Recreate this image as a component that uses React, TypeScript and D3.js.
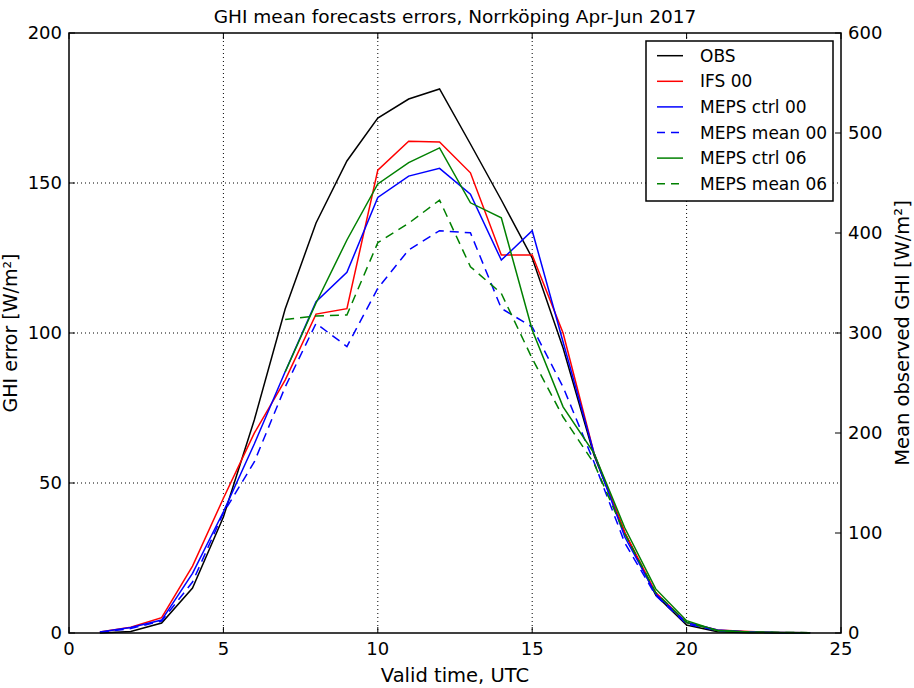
import React from "react";
import * as d3 from "d3";

const hours = [1, 2, 3, 4, 5, 6, 7, 8, 9, 10, 11, 12, 13, 14, 15, 16, 17, 18, 19, 20, 21, 22, 23, 24];
const hours06 = [7, 8, 9, 10, 11, 12, 13, 14, 15, 16, 17, 18, 19, 20, 21, 22, 23, 24];

// Mean observed GHI [W/m²] (right axis)
const obs = [0, 1.5, 10, 45, 116, 213, 324, 410, 472, 515, 534, 544, 489, 433, 375, 285, 178, 100, 38, 8, 1.2, 0.3, 0, 0];
// GHI errors [W/m²] (left axis)
const ifs00 = [0.3, 1.9, 5.1, 22.3, 44.9, 66.6, 84.3, 106.3, 108.1, 154.3, 163.9, 163.7, 153.4, 126, 126, 100, 60, 33.5, 13.5, 3.5, 1, 0.5, 0.2, 0.1];
const mepsCtrl00 = [0.3, 1.8, 4.3, 19.9, 40.4, 63, 87.1, 110.4, 120.2, 145.2, 152.3, 154.9, 146.3, 124.3, 134.1, 97, 60, 32, 13, 3.5, 1, 0.3, 0.2, 0.1];
const mepsMean00 = [0.2, 1.5, 4, 17, 40, 57, 82, 103.2, 95.5, 114.9, 127.7, 134.1, 133.4, 108.2, 102, 82, 57, 30, 12.5, 3, 0.8, 0.3, 0.1, 0.1];
const mepsCtrl06 = [87, 110, 131, 149.7, 156.8, 161.7, 143.4, 138.4, 101, 75.4, 60, 35, 14.7, 4.1, 0.8, 0.3, 0.2, 0.1];
const mepsMean06 = [104.5, 105.7, 106, 130.1, 136.6, 144.3, 122.1, 113.2, 91.5, 72, 56.6, 33, 13.5, 3.5, 0.8, 0.3, 0.2, 0.1];

const xTicks = [0, 5, 10, 15, 20, 25];
const yLeftTicks = [0, 50, 100, 150, 200];
const yRightTicks = [0, 100, 200, 300, 400, 500, 600];

const legendLabels = ["OBS", "IFS 00", "MEPS ctrl 00", "MEPS mean 00", "MEPS ctrl 06", "MEPS mean 06"];

const W = 914, H = 688;
const M = { left: 69, right: 841, top: 33, bottom: 633 };
const FONT = "DejaVu Sans, sans-serif";

export default function App() {
  const x = d3.scaleLinear().domain([0, 25]).range([M.left, M.right]);
  const yL = d3.scaleLinear().domain([0, 200]).range([M.bottom, M.top]);
  const yR = d3.scaleLinear().domain([0, 600]).range([M.bottom, M.top]);

  const lineL = (xs: number[], ys: number[]) =>
    d3.line<number>().x((_, i) => x(xs[i])).y((d) => yL(d))(ys) || "";
  const lineR = (xs: number[], ys: number[]) =>
    d3.line<number>().x((_, i) => x(xs[i])).y((d) => yR(d))(ys) || "";

  const series = [
    { label: legendLabels[0], d: lineR(hours, obs), color: "#000000", dash: undefined },
    { label: legendLabels[1], d: lineL(hours, ifs00), color: "#ff0000", dash: undefined },
    { label: legendLabels[2], d: lineL(hours, mepsCtrl00), color: "#0000ff", dash: undefined },
    { label: legendLabels[3], d: lineL(hours, mepsMean00), color: "#0000ff", dash: "9,6" },
    { label: legendLabels[4], d: lineL(hours06, mepsCtrl06), color: "#008000", dash: undefined },
    { label: legendLabels[5], d: lineL(hours06, mepsMean06), color: "#008000", dash: "9,6" },
  ];

  const tickLen = 6;
  const legX = 646, legY = 41, legW = 187, legH = 160, rowH = 25.6;

  return (
    <svg width={W} height={H} style={{ position: "absolute", left: 0, top: 0, background: "#fff" }} fontFamily={FONT}>
      <rect x={0} y={0} width={W} height={H} fill="#fff" />
      {/* grid */}
      {xTicks.filter((t) => t > 0 && t < 25).map((t) => (
        <line key={"gx" + t} x1={x(t)} x2={x(t)} y1={M.top} y2={M.bottom} stroke="#000" strokeWidth={1} strokeDasharray="1,3" />
      ))}
      {yLeftTicks.filter((t) => t > 0 && t < 200).map((t) => (
        <line key={"gy" + t} x1={M.left} x2={M.right} y1={yL(t)} y2={yL(t)} stroke="#000" strokeWidth={1} strokeDasharray="1,3" />
      ))}
      {/* series */}
      {series.map((s) => (
        <path key={s.label} d={s.d} fill="none" stroke={s.color} strokeWidth={1.5} strokeDasharray={s.dash} strokeLinejoin="miter" />
      ))}
      {/* ticks */}
      {xTicks.map((t) => (
        <g key={"xt" + t}>
          <line x1={x(t)} x2={x(t)} y1={M.bottom} y2={M.bottom - tickLen} stroke="#000" strokeWidth={1} />
          <line x1={x(t)} x2={x(t)} y1={M.top} y2={M.top + tickLen} stroke="#000" strokeWidth={1} />
          <text x={x(t)} y={655} textAnchor="middle" fontSize={18} fill="#000">{t}</text>
        </g>
      ))}
      {yLeftTicks.map((t) => (
        <g key={"yl" + t}>
          <line x1={M.left} x2={M.left + tickLen} y1={yL(t)} y2={yL(t)} stroke="#000" strokeWidth={1} />
          <text x={62} y={yL(t)} dy="0.35em" textAnchor="end" fontSize={18} fill="#000">{t}</text>
        </g>
      ))}
      {yRightTicks.map((t) => (
        <g key={"yr" + t}>
          <line x1={M.right} x2={M.right - tickLen} y1={yR(t)} y2={yR(t)} stroke="#000" strokeWidth={1} />
          <text x={848} y={yR(t)} dy="0.35em" textAnchor="start" fontSize={18} fill="#000">{t}</text>
        </g>
      ))}
      {/* frame */}
      <rect x={M.left} y={M.top} width={M.right - M.left} height={M.bottom - M.top} fill="none" stroke="#000" strokeWidth={1.5} />
      {/* title and labels */}
      <text x={(M.left + M.right) / 2} y={23} textAnchor="middle" fontSize={18.5} fill="#000">
        GHI mean forecasts errors, Norrköping Apr-Jun 2017
      </text>
      <text x={(M.left + M.right) / 2} y={682} textAnchor="middle" fontSize={19.5} fill="#000">Valid time, UTC</text>
      <text transform={`translate(17,${(M.top + M.bottom) / 2}) rotate(-90)`} textAnchor="middle" fontSize={19} fill="#000">
        GHI error [W/m²]
      </text>
      <text transform={`translate(909,${(M.top + M.bottom) / 2}) rotate(-90)`} textAnchor="middle" fontSize={19.5} fill="#000">
        Mean observed GHI [W/m²]
      </text>
      {/* legend */}
      <rect x={legX} y={legY} width={legW} height={legH} fill="#fff" stroke="#000" strokeWidth={1.5} />
      {series.map((s, i) => {
        const cy = legY + 14.7 + i * rowH;
        return (
          <g key={"lg" + s.label}>
            <line x1={657} x2={683} y1={cy} y2={cy} stroke={s.color} strokeWidth={1.5} strokeDasharray={s.dash ? "8,6" : undefined} />
            <text x={700} y={cy} dy="0.36em" fontSize={17} fill="#000">{s.label}</text>
          </g>
        );
      })}
    </svg>
  );
}
